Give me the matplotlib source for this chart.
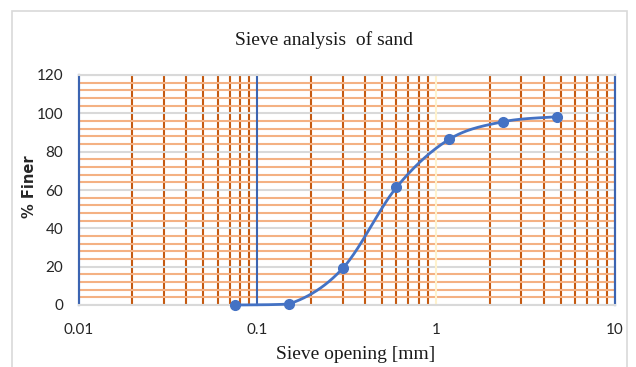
import numpy as np
import matplotlib
matplotlib.use("Agg")
import matplotlib.pyplot as plt
from matplotlib.patches import Rectangle
from matplotlib.ticker import FixedLocator, NullFormatter

# ---- data ----
sieve_mm = [0.075, 0.15, 0.3, 0.6, 1.18, 2.36, 4.75]
percent_finer = [0.0, 0.5, 19.1, 61.4, 86.4, 95.6, 98.2]
x_ticks = [0.01, 0.1, 1, 10]
x_tick_labels = ["0.01", "0.1", "1", "10"]
y_ticks = [0, 20, 40, 60, 80, 100, 120]
title = "Sieve analysis  of sand"
x_label = "Sieve opening [mm]"
y_label = "% Finer"

W, H = 636, 367
fig = plt.figure(figsize=(W / 100, H / 100), dpi=100)
fig.patch.set_facecolor("white")
fig.patches.append(Rectangle((12 / W, -0.05), (627 - 12) / W, (H - 11) / H + 0.05,
                             transform=fig.transFigure, fill=False,
                             edgecolor="#D9D9D9", lw=1.2))

L, R, T, B = 78.5, 615, 75, 305
ax = fig.add_axes([L / W, (H - B) / H, (R - L) / W, (B - T) / H])
ax.set_xscale("log")
ax.set_xlim(0.01, 10)
ax.set_ylim(0, 120)

# horizontal minor gridlines (every 4) light orange
minor_y = [v for v in range(0, 121, 4) if v % 20 != 0]
ax.yaxis.set_minor_locator(FixedLocator(minor_y))
ax.yaxis.set_minor_formatter(NullFormatter())
ax.set_yticks(y_ticks)
ax.grid(True, which="minor", axis="y", color="#F4B183", lw=1.5, zorder=1)
ax.grid(True, which="major", axis="y", color="#D9D9D9", lw=1.5, zorder=1.5)

# vertical minor gridlines dark orange
minor_x = [m * 10.0 ** e for e in (-2, -1, 0) for m in range(2, 10)]
ax.xaxis.set_minor_locator(FixedLocator(minor_x))
ax.xaxis.set_minor_formatter(NullFormatter())
ax.grid(True, which="minor", axis="x", color="#C55A11", lw=1.5, zorder=2)
ax.set_xticks(x_ticks)
ax.set_xticklabels(x_tick_labels)
major_colors = ["#3C64B1", "#3C64B1", "#FFF2CC", "#3C64B1"]
for xv, c in zip(x_ticks, major_colors):
    ax.axvline(xv, color=c, lw=1.5, zorder=2.5, clip_on=False)

for s in ("left", "right"):
    ax.spines[s].set_color("#3C64B1")
    ax.spines[s].set_linewidth(1.5)
for s in ("top", "bottom"):
    ax.spines[s].set_color("#D9D9D9")
    ax.spines[s].set_linewidth(1.5)

ax.tick_params(which="both", length=0)
ax.tick_params(axis="y", pad=11, labelsize=11, labelcolor="#262626")
ax.tick_params(axis="x", pad=13, labelsize=11, labelcolor="#262626")
for lab in ax.get_xticklabels() + ax.get_yticklabels():
    lab.set_family("Lato")

# Excel-like smoothed line (Catmull-Rom bezier in log-x space, no overshoot in y)
u = np.log10(np.array(sieve_mm))
v = np.array(percent_finer)
P = np.column_stack([u, v])
n = len(P)
xs, ys = [], []
t = np.linspace(0, 1, 40)
for i in range(n - 1):
    P0 = P[i - 1] if i > 0 else P[i]
    P1 = P[i]
    P2 = P[i + 1]
    P3 = P[i + 2] if i + 2 < n else P[i + 1]
    c1 = P1 + (P2 - P0) / 6
    c2 = P2 - (P3 - P1) / 6
    lo, hi = min(P1[1], P2[1]), max(P1[1], P2[1])
    c1[1] = np.clip(c1[1], lo, hi)
    c2[1] = np.clip(c2[1], lo, hi)
    pts = ((1 - t) ** 3)[:, None] * P1 + (3 * (1 - t) ** 2 * t)[:, None] * c1 \
        + (3 * (1 - t) * t ** 2)[:, None] * c2 + (t ** 3)[:, None] * P2
    xs.extend(pts[:, 0])
    ys.extend(pts[:, 1])
ax.plot(10 ** np.array(xs), ys, color="#4472C4", lw=2, zorder=5, clip_on=False)
ax.plot(sieve_mm, percent_finer, "o", color="#4472C4", ms=7, zorder=6, clip_on=False)

fig.text(324 / W, 1 - 45 / H, title, ha="center", va="baseline",
         family="Liberation Serif", fontsize=14, color="#1a1a1a")
fig.text(356 / W, 1 - 359 / H, x_label, ha="center", va="baseline",
         family="Liberation Serif", fontsize=14, color="#1a1a1a")
fig.text(30 / W, 1 - 186.5 / H, y_label, ha="center", va="center", rotation=90,
         family="DejaVu Sans", fontsize=10.5, fontweight="bold", color="#262626")

fig.savefig("out.png", dpi=100)
